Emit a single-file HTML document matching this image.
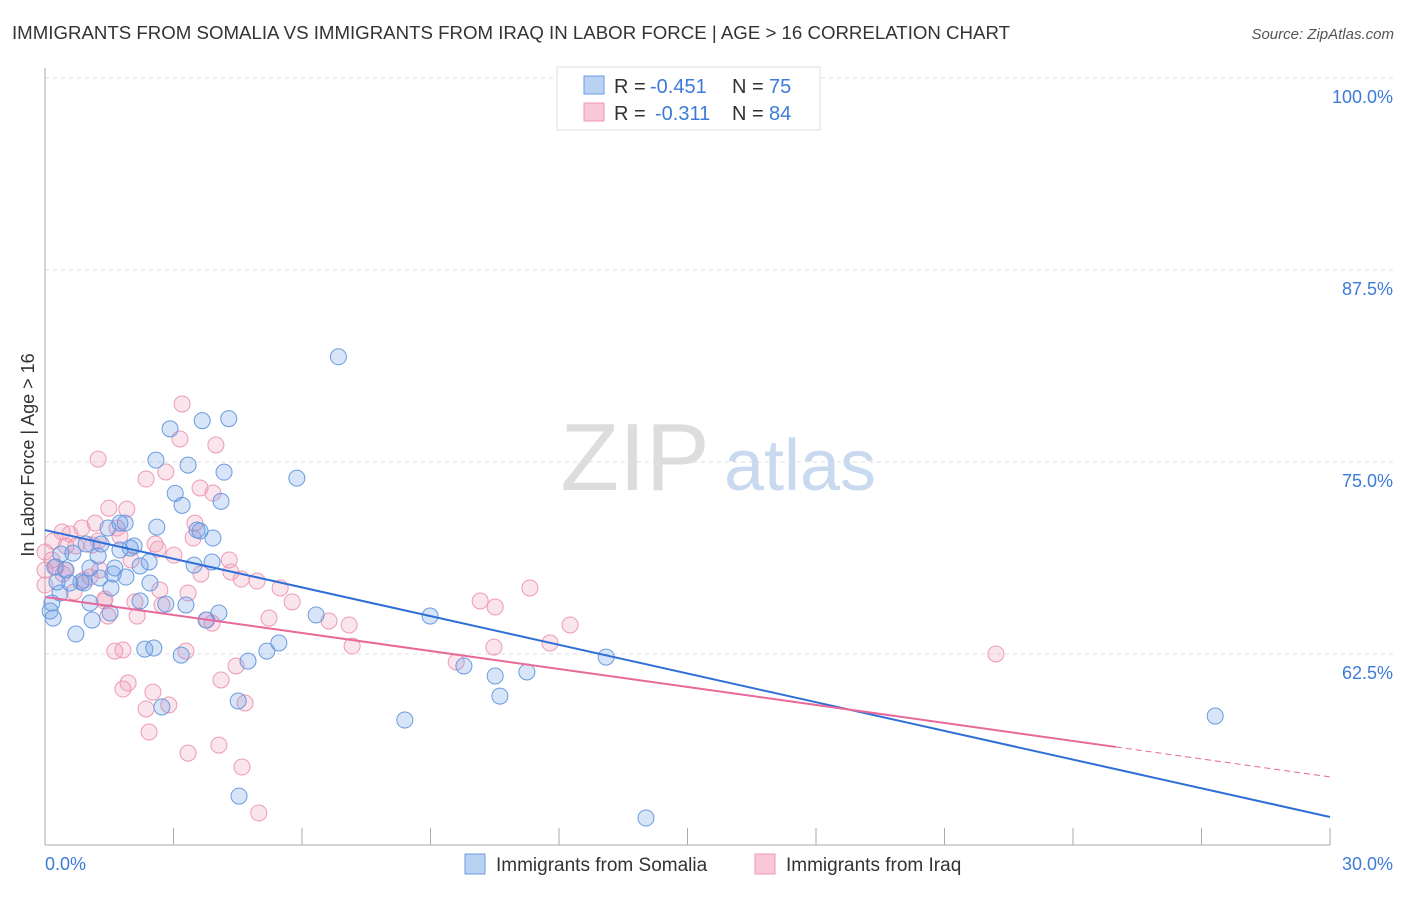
<!DOCTYPE html>
<html><head><meta charset="utf-8"><style>
body{margin:0;background:#fff;font-family:"Liberation Sans",sans-serif;}
svg text{font-family:"Liberation Sans",sans-serif;}
</style></head><body>
<svg id="chart" width="1406" height="892" xmlns="http://www.w3.org/2000/svg">
<text x="12" y="39" font-size="18" fill="#333" textLength="998" lengthAdjust="spacingAndGlyphs">IMMIGRANTS FROM SOMALIA VS IMMIGRANTS FROM IRAQ IN LABOR FORCE | AGE &gt; 16 CORRELATION CHART</text>
<text x="1394" y="39" font-size="15" fill="#555" font-style="italic" text-anchor="end">Source: ZipAtlas.com</text>
<g id="grid"></g>
<g>
<text x="635" y="490" font-size="96" fill="#ddd" font-family="Liberation Serif" text-anchor="middle">ZIP</text>
<text x="800" y="490" font-size="72" fill="#c9daf0" text-anchor="middle">atlas</text>
</g>
<text transform="translate(34,455) rotate(-90)" font-size="18" fill="#333" text-anchor="middle">In Labor Force | Age &gt; 16</text>
<g id="marks"></g>
<g>
<rect x="557" y="67" width="263" height="63" fill="#fff" stroke="#ddd"/>
<rect x="584" y="76" width="20" height="18" fill="#b9d1f3" stroke="#6a9be0"/>
<rect x="584" y="103" width="20" height="18" fill="#f9c8d7" stroke="#ee9ab5"/>
<text x="614" y="93" font-size="20" fill="#333">R =</text>
<text x="650" y="93" font-size="20" fill="#3d7bd8">-0.451</text>
<text x="732" y="93" font-size="20" fill="#333">N =</text>
<text x="769" y="93" font-size="20" fill="#3d7bd8">75</text>
<text x="614" y="120" font-size="20" fill="#333">R =</text>
<text x="655" y="120" font-size="20" fill="#3d7bd8">-0.311</text>
<text x="732" y="120" font-size="20" fill="#333">N =</text>
<text x="769" y="120" font-size="20" fill="#3d7bd8">84</text>
</g>
<g>
<rect x="465" y="854" width="20" height="20" fill="#b9d1f3" stroke="#6a9be0"/>
<text x="496" y="871" font-size="19" fill="#333">Immigrants from Somalia</text>
<rect x="755" y="854" width="20" height="20" fill="#f9c8d7" stroke="#ee9ab5"/>
<text x="786" y="871" font-size="19" fill="#333">Immigrants from Iraq</text>
</g>
</svg>
<script>
const yTicks=[62.5,75,87.5,100];
const xTickLabels=["0.0%","30.0%"];
const somaliaX=[6.85,4.29,2.92,3.67,2.59,3.34,4.18,5.88,3.04,3.2,4.11,1.75,1.87,1.47,3.55,3.62,2.61,3.92,0.96,1.31,1.75,2.08,1.99,0.37,0.65,1.24,0.49,0.23,1.05,2.43,2.22,3.48,3.9,1.59,1.89,0.84,0.91,0.28,1.54,2.22,2.82,3.29,4.06,3.76,6.33,8.99,1.1,0.72,2.54,2.33,5.46,9.78,10.51,5.18,3.18,4.74,11.25,13.1,4.51,2.73,10.62,8.4,27.32,4.53,14.03,0.19,0.12,0.16,0.35,0.58,1.28,1.63,2.45,1.05,1.52];
const somaliaY=[81.85,77.82,77.16,77.69,75.12,74.8,74.34,73.95,72.96,72.18,72.44,71.02,71.02,70.7,70.57,70.51,70.76,70.05,69.66,69.66,69.27,69.53,69.4,69.01,69.07,68.88,67.97,68.16,68.1,68.49,68.23,68.29,68.49,67.71,67.51,67.19,67.12,67.19,66.8,65.95,65.75,65.69,65.17,64.71,65.04,64.97,64.71,63.8,62.89,62.82,63.22,61.72,61.07,62.69,62.43,62.04,61.33,62.3,59.44,59.05,59.76,58.2,58.46,53.25,51.82,64.84,65.3,65.82,66.47,67.12,67.45,68.1,67.12,65.82,65.17];
const iraqX=[3.2,1.24,3.15,3.99,2.36,2.82,3.62,3.92,1.49,1.91,1.17,0.4,0.58,0.86,1.68,3.5,0.19,0.49,0.72,1.1,1.24,1.75,2.57,2.64,3.01,3.46,0,0.16,0,0.26,0.42,1.05,2.01,4.3,3.64,4.34,4.58,4.95,5.49,3.34,2.68,2.1,2.73,1.4,1.38,1.47,2.15,5.77,3.78,3.9,5.23,6.63,7.1,7.17,11.32,10.16,10.51,12.26,11.79,10.48,9.6,22.2,3.29,1.63,1.82,4.11,4.46,1.94,1.82,2.52,2.36,2.89,4.67,2.43,4.06,3.34,4.6,4.99,0.91,0.68,0.47,1.28,0];
const iraqY=[78.78,75.19,76.5,76.11,73.89,74.35,73.31,72.98,71.99,71.93,71.02,70.44,70.31,70.7,70.7,71.02,69.85,69.53,69.53,69.6,69.86,70.18,69.66,69.33,68.94,70.05,69.14,68.62,67.97,68.16,67.71,67.51,68.62,68.62,67.71,67.84,67.38,67.25,66.8,66.47,66.67,65.89,65.69,66.08,65.95,64.97,64.97,65.89,64.71,64.51,64.84,64.65,64.39,63.02,66.8,65.95,65.56,64.39,63.22,62.95,61.98,62.5,62.69,62.69,62.76,60.81,61.72,60.61,60.22,60.02,58.92,59.18,59.31,57.42,56.57,56.05,55.14,52.15,67.32,66.54,67.97,67.97,66.99];
const somaliaTrend=[70.57,51.89];
const iraqTrend=[66.21,56.45];
const X0=45,X1=1330,Y0=845,YTOP=78;
function sx(v){return X0+v/30*(X1-X0);}
function sy(v){return 654-(v-62.5)*(654-YTOP)/37.5;}
const NS="http://www.w3.org/2000/svg";
function mk(tag,attrs,parent){const e=document.createElementNS(NS,tag);for(const k in attrs)e.setAttribute(k,attrs[k]);parent.appendChild(e);return e;}
const grid=document.getElementById('grid'),marks=document.getElementById('marks');
yTicks.forEach(t=>{
  const l=mk('line',{x1:45,x2:1394,y1:sy(t),y2:sy(t),stroke:'#ddd','stroke-dasharray':'4,4'},grid);
  
  
  const tx=mk('text',{x:1393,y:sy(t)+25,'font-size':18,fill:'#3d7bd8','text-anchor':'end'},grid);
  tx.textContent=t.toFixed(1)+'%';
  
  
});
const ax=mk('line',{x1:45,x2:1330,y1:Y0,y2:Y0,stroke:'#aaa'},grid);


const ay=mk('line',{x1:45,x2:45,y1:68,y2:Y0,stroke:'#aaa'},grid);


for(let i=0;i<=10;i++){
  const t=mk('line',{x1:sx(i*3),x2:sx(i*3),y1:Y0,y2:Y0-17,stroke:'#aaa'},grid);
  
  
}
[[0,'start',45],[1,'end',1393]].forEach(([i,a,x])=>{
  const t=mk('text',{x:x,y:870,'font-size':18,fill:'#3d7bd8','text-anchor':a},grid);
  t.textContent=xTickLabels[i];
  
  
});
function pts(xs,ys,fill,stroke,name){
  xs.forEach((x,i)=>{
    const c=mk('circle',{cx:sx(x),cy:sy(ys[i]),r:8,fill:fill,stroke:stroke,'stroke-width':1},marks);
    
    
  });
}
pts(iraqX,iraqY,'rgba(240,150,180,0.25)','#ee9ab5','iraq-point');
pts(somaliaX,somaliaY,'rgba(100,150,230,0.25)','#6a9be0','somalia-point');
const bl=mk('line',{x1:sx(0),y1:sy(somaliaTrend[0]),x2:sx(30),y2:sy(somaliaTrend[1]),stroke:'#2f6fd6','stroke-width':2},marks);


const slopeP=(iraqTrend[1]-iraqTrend[0])/25;
const pl=mk('line',{x1:sx(0),y1:sy(iraqTrend[0]),x2:sx(25),y2:sy(iraqTrend[1]),stroke:'#e8689a','stroke-width':2},marks);


const pd=mk('line',{x1:sx(25),y1:sy(iraqTrend[1]),x2:sx(30),y2:sy(iraqTrend[1]+slopeP*5),stroke:'#e8689a','stroke-width':1,'stroke-dasharray':'6,4'},marks);


</script>
</body></html>
